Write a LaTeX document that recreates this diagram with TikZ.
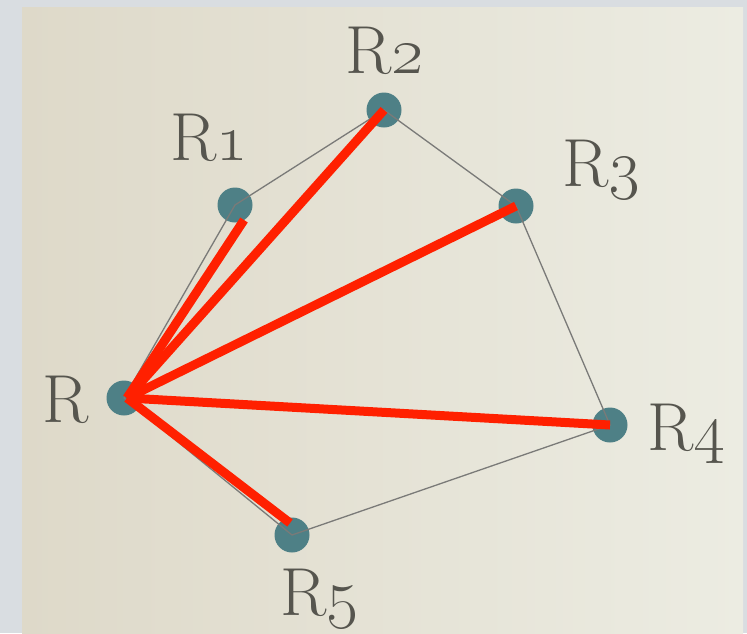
\documentclass[tikz,border=0pt]{standalone}
\usepackage{fix-cm}

\definecolor{framegrey}{RGB}{217,221,225}
\definecolor{paperdark}{RGB}{222,217,201}
\definecolor{paperlight}{RGB}{236,236,226}
\definecolor{routerteal}{RGB}{78,128,134}
\definecolor{labelgrey}{RGB}{86,85,78}
\definecolor{edgegrey}{RGB}{122,122,120}
\definecolor{pathred}{RGB}{255,32,0}

\newcommand*{\pw}{747}
\newcommand*{\ph}{633}

\begin{document}
\begin{tikzpicture}
[
	router/.style={circle,fill=routerteal,inner sep=0pt,minimum size=35pt},
	rlabel/.style={anchor=base west,inner sep=0pt,text=labelgrey,font=\fontsize{68}{68}\selectfont},
	edge/.style={edgegrey,line width=1.3pt},
	shortest/.style={pathred,line width=9pt},
	x=1pt,y=-1pt
]

	% paper
	\fill[framegrey] (0,0) rectangle (\pw,\ph);
	\useasboundingbox (0,0) rectangle (\pw,\ph);
	\shade[left color=paperdark,right color=paperlight] (22,7) rectangle (743,\ph);

	% routers
	\node[router] at (124,398) (R) {};
	\node[router] at (235,205) (R1) {};
	\node[router] at (384,110) (R2) {};
	\node[router] at (516,206) (R3) {};
	\node[router] at (610,425) (R4) {};
	\node[router] at (292,535) (R5) {};

	\node[rlabel] at (42,422) (lR) {R};
	\node[rlabel] at (170,160) (lR1) {R\oldstylenums{1}};
	\node[rlabel] at (345,73) (lR2) {R\oldstylenums{2}};
	\node[rlabel] at (562,186) (lR3) {R\oldstylenums{3}};
	\node[rlabel] at (647,450) (lR4) {R\oldstylenums{4}};
	\node[rlabel] at (280,615) (lR5) {R\oldstylenums{5}};

	% links
	\draw[edge] (R.center) -- (R1.center) -- (R2.center) -- (R3.center) -- (R4.center) -- (R5.center) -- cycle;

	% shortest paths from R
	\coordinate (rstart) at (127,398);
	\coordinate (r1end) at (244,220);
	\coordinate (r5end) at (290,523);
	\draw[shortest] (rstart) -- (r1end);
	\draw[shortest] (rstart) -- (R2.center);
	\draw[shortest] (rstart) -- (R3.center);
	\draw[shortest] (rstart) -- (R4.center);
	\draw[shortest] (rstart) -- (r5end);

\end{tikzpicture}
\end{document}
